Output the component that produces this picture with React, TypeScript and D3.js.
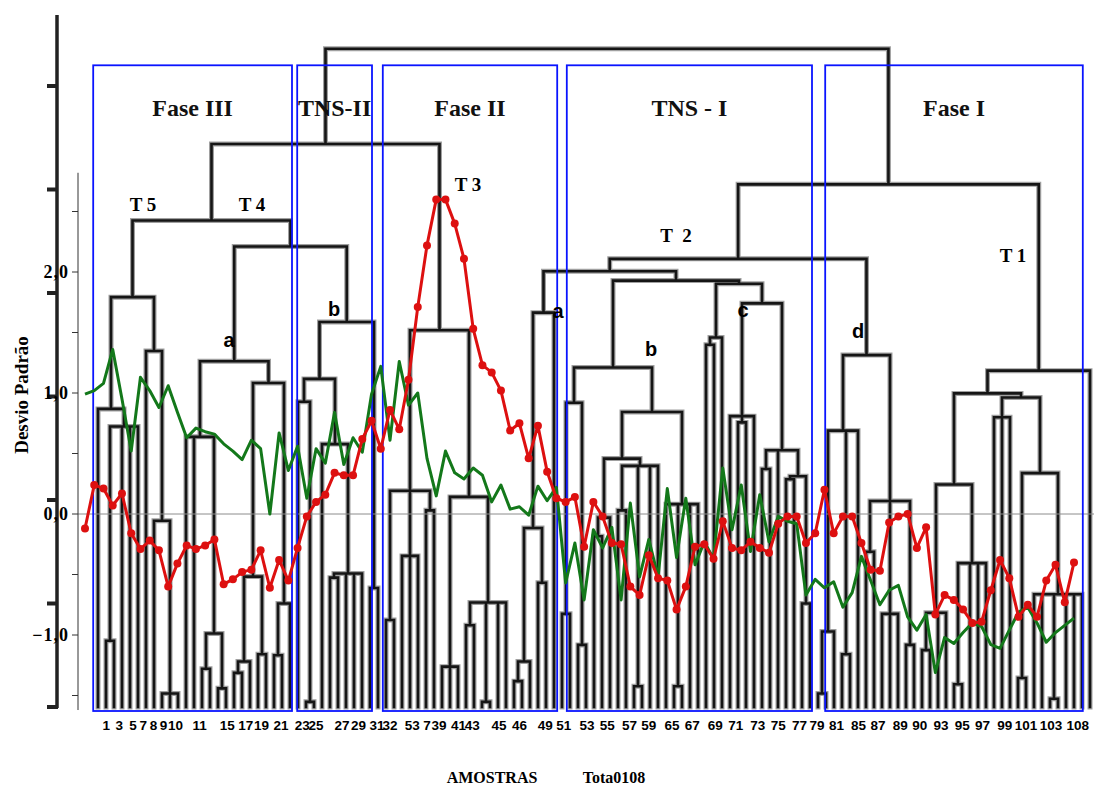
import React, { useRef, useEffect } from 'react';
import * as d3 from 'd3';

// dendrogram: [height, ...children], a leaf is `o`
type Node = number | Node[];
const o = 0;

const clusterT5: Node = [3.96,
  [2.88, o, [2.71, [0.64, o, o], o, o, o]],
  [3.44, o, [1.80, o, [0.13, o, o, o]]],
];
const clusterT4a: Node = [3.34,
  [2.61, o, o, [0.71, [0.37, o, o], [0.18, o, o]]],
  [3.13, [1.26, [0.44, [0.33, o, o], o], [0.51, o, o]], [1.0, [0.5, o, o], o]],
];
const clusterT4b: Node = [3.72,
  [3.17, [2.95, o, [0.05, o, o]], [2.54, o, [1.29, [1.25, o, o], o, o, o]]],
  [1.15, o, o],
];
const clusterT3: Node = [3.64,
  [2.09, [0.84, o, o], [1.46, o, o, o], [1.9, o, o]],
  [2.03, [0.39, o, o, o], [1.01, [0.79, o, o], [0.05, o, o], o, o]],
];
const clusterT2a: Node = [3.81, [1.73, [0.44, [0.25, o, o], o], [1.2, o, o]], o];
const clusterT2b: Node = [3.28,
  [2.94, [0.9, o, o], [0.6, o, o]],
  [2.85,
    [2.40, [1.83, [1.65, o, o], o], [2.33, [1.9, o, o], [0.2, o, o], o, o]],
    [1.96, o, [0.2, o, o], o, o]],
];
const clusterT2c: Node = [4.09,
  [3.57, [3.5, o, o], o],
  [3.90, [2.81, o, [2.75, o, o], o], [2.48, [2.3, o, o], o, [2.23, [2.2, o, o], [1.0, o, o]]]],
];
const clusterT2d: Node = [3.40,
  [2.67, [0.73, [0.13, o, o], o], [0.51, o, o], o],
  [1.99, [1.5, o, o], [0.9, o, o, o], [0.6, o, o]],
];
const clusterT1: Node = [3.25,
  [3.03,
    [2.15, [0.91, [0.55, o, o], o, o], [1.39, [0.22, o, o], o, o, o]],
    [2.99, [2.8, o, o, o], [2.26, [0.28, o, o], [1.09, o, o, [0.08, o, o], o, o, o]]]],
  o,
];
const dendrogram: Node = [6.36,
  [5.44, [4.70, clusterT5, [4.45, clusterT4a, clusterT4b]], clusterT3],
  [5.05, [4.33, [4.21, clusterT2a, [4.12, clusterT2b, clusterT2c]], clusterT2d], clusterT1],
];

// standardized series, samples 1..108 (dendrogram order)
const redSeries = [-0.12, 0.24, 0.21, 0.07, 0.17, -0.16, -0.29, -0.22, -0.30, -0.60,
  -0.41, -0.26, -0.29, -0.26, -0.21, -0.58, -0.54, -0.48, -0.46, -0.30,
  -0.61, -0.38, -0.55, -0.28, -0.02, 0.10, 0.16, 0.34, 0.32, 0.32,
  0.62, 0.77, 0.54, 0.86, 0.70, 1.11, 1.71, 2.22, 2.60, 2.60,
  2.40, 2.11, 1.53, 1.23, 1.17, 1.02, 0.69, 0.75, 0.46, 0.73,
  0.35, 0.13, 0.10, 0.14, -0.27, 0.10, -0.02, -0.24, -0.25, -0.60,
  -0.67, -0.34, -0.53, -0.55, -0.79, -0.60, -0.27, -0.25, -0.37, -0.06,
  -0.28, -0.30, -0.23, -0.28, -0.32, -0.08, -0.02, -0.02, -0.24, -0.16,
  0.20, -0.16, -0.02, -0.02, -0.24, -0.46, -0.47, -0.07, -0.02, 0.00,
  -0.28, -0.11, -0.83, -0.67, -0.71, -0.79, -0.90, -0.89, -0.63, -0.38,
  -0.53, -0.85, -0.75, -0.85, -0.55, -0.42, -0.73, -0.40];
const greenSeries = [0.99, 1.02, 1.08, 1.36, 0.95, 0.52, 1.13, 1.02, 0.88, 1.06,
  0.84, 0.63, 0.71, 0.68, 0.66, 0.58, 0.52, 0.45, 0.61, 0.54,
  0.00, 0.67, 0.36, 0.56, 0.13, 0.54, 0.42, 0.84, 0.41, 0.63,
  0.51, 0.99, 1.22, 0.61, 1.26, 0.90, 1.00, 0.46, 0.15, 0.52,
  0.34, 0.29, 0.38, 0.32, 0.10, 0.24, 0.04, 0.06, -0.01, 0.23,
  0.11, 0.22, -0.57, -0.24, -0.71, -0.13, -0.28, -0.11, -0.71, 0.09,
  -0.52, -0.21, -0.52, 0.21, -0.36, 0.13, -0.42, -0.23, -0.37, 0.38,
  -0.13, 0.24, -0.31, 0.16, -0.23, -0.02, -0.06, -0.08, -0.67, -0.54,
  -0.61, -0.56, -0.77, -0.65, -0.35, -0.55, -0.75, -0.63, -0.59, -0.85,
  -0.96, -0.83, -1.31, -1.02, -1.07, -0.98, -0.90, -0.93, -1.08, -1.11,
  -0.96, -0.81, -0.77, -0.90, -1.06, -0.98, -0.92, -0.86];

const sampleLabels = ['1', '3', '5', '7', '8', '9', '10', '11', '15', '17', '19', '21', '23', '25', '27', '29',
  '31', '32', '53', '7', '39', '41', '43', '45', '46', '49', '51', '53', '55', '57', '59', '65', '67', '69',
  '71', '73', '75', '77', '79', '81', '85', '87', '89', '90', '93', '95', '97', '99', '101', '103', '108'];
const sampleLabelAt = [3.3, 4.7, 6.2, 7.3, 8.4, 9.5, 10.8, 13.4, 16.4, 18.4, 20.1, 22.2, 24.5, 26, 28.8, 30.6,
  32.6, 34, 36.4, 38, 39.3, 41.4, 42.9, 45.8, 48, 50.8, 52.8, 55.3, 57.5, 59.9, 62, 64.5, 66.7, 69.2,
  71.4, 73.8, 76, 78.3, 80.2, 82.3, 84.7, 86.8, 89.2, 91.3, 93.6, 95.9, 98.1, 100.5, 102.8, 105.5, 108.4];

// phase boxes, in leaf positions
const phaseNames = ['Fase III', 'TNS-II', 'Fase II', 'TNS - I', 'Fase I'];
const phaseFrom = [-0.6, 24.9, 35.6, 58.6, 90.9];
const phaseTo = [24.25, 34.25, 57.4, 89.25, 123.1];

const valueTicks = [-1.5, -1, -0.5, 0, 0.5, 1, 1.5, 2, 2.5];
const valueLabels = [-1, 0, 1, 2];
const distTicks = [0, 1, 2, 3, 4, 5, 6];

const serif = '"Liberation Serif", "Times New Roman", serif';
const sans = '"Liberation Sans", Arial, sans-serif';

export default function App() {
  const svgRef = useRef<SVGSVGElement>(null);

  useEffect(() => {
    document.body.style.margin = '0';
    const svg = d3.select(svgRef.current);
    svg.selectAll('*').remove();

    const root: any = d3.hierarchy<Node>(dendrogram, d => (Array.isArray(d) ? d.slice(1) : null));
    const leafNodes = root.leaves();

    const xLeaf = d3.scaleLinear().domain([0, leafNodes.length - 1]).range([98, 1090]);
    const hDend = d3.scaleLinear().domain([0, 6]).range([707, 86]);
    const xs = d3.scaleLinear().domain([1, 108]).range([85, 1074]);
    const yv = d3.scaleLinear().domain([0, 1]).range([514, 393]);

    leafNodes.forEach((n: any, i: number) => { n.x = xLeaf(i); n.y = hDend(0); });
    root.eachAfter((n: any) => {
      if (n.children) {
        n.x = (n.children[0].x + n.children[n.children.length - 1].x) / 2;
        n.y = hDend(n.data[0]);
      }
    });

    let d = '';
    root.each((n: any) => {
      if (!n.children) return;
      const c = n.children;
      d += `M${c[0].x},${n.y}H${c[c.length - 1].x}`;
      c.forEach((ch: any) => { d += `M${ch.x},${n.y}V${ch.y}`; });
    });

    // outer (distance) axis
    svg.append('line')
      .attr('x1', 57).attr('x2', 57).attr('y1', 15).attr('y2', hDend(0) + 1)
      .attr('stroke', '#222').attr('stroke-width', 3.5);
    svg.append('g').selectAll('line').data(distTicks).join('line')
      .attr('x1', 47).attr('x2', 58)
      .attr('y1', t => hDend(t)).attr('y2', t => hDend(t))
      .attr('stroke', '#222').attr('stroke-width', 4);

    // dendrogram
    svg.append('path').attr('d', d).attr('fill', 'none')
      .attr('stroke', '#a0a0a0').attr('stroke-width', 5).attr('stroke-linecap', 'square');
    svg.append('path').attr('d', d).attr('fill', 'none')
      .attr('stroke', '#151515').attr('stroke-width', 2.6).attr('stroke-linecap', 'square');

    // zero gridline
    svg.append('line')
      .attr('x1', 78).attr('x2', 1094).attr('y1', yv(0)).attr('y2', yv(0))
      .attr('stroke', '#8c8c8c').attr('stroke-width', 1);

    // inner (value) axis
    svg.append('line')
      .attr('x1', 78).attr('x2', 78).attr('y1', yv(2.82)).attr('y2', yv(-1.62))
      .attr('stroke', '#333').attr('stroke-width', 1);
    svg.append('g').selectAll('line').data(valueTicks).join('line')
      .attr('x1', 72).attr('x2', 78)
      .attr('y1', t => yv(t)).attr('y2', t => yv(t))
      .attr('stroke', '#333').attr('stroke-width', 1);
    svg.append('g').selectAll('text').data(valueLabels).join('text')
      .attr('x', 69).attr('y', t => yv(t)).attr('dy', '0.35em')
      .attr('text-anchor', 'end')
      .attr('font-family', serif).attr('font-weight', 'bold').attr('font-size', 18)
      .attr('letter-spacing', 1)
      .text(t => d3.format('.1f')(t).replace('.', ','));

    // phase boxes
    const boxes = svg.append('g');
    phaseNames.forEach((name, i) => {
      const x0 = xLeaf(phaseFrom[i]);
      const x1 = xLeaf(phaseTo[i]);
      boxes.append('rect')
        .attr('x', x0).attr('y', hDend(6.2))
        .attr('width', x1 - x0).attr('height', hDend(0) + 4 - hDend(6.2))
        .attr('fill', 'none').attr('stroke', '#0a14ff').attr('stroke-width', 1.8);
      boxes.append('text')
        .attr('x', (x0 + x1) / 2).attr('y', 116)
        .attr('text-anchor', 'middle')
        .attr('font-family', serif).attr('font-weight', 'bold').attr('font-size', 24)
        .attr('fill', '#111')
        .text(name);
    });

    // group labels
    const groupLabels = [
      { t: 'T 5', x: 143, y: 211 }, { t: 'T 4', x: 252, y: 211 }, { t: 'T 3', x: 468, y: 191 },
      { t: 'T  2', x: 676, y: 242 }, { t: 'T 1', x: 1013, y: 262 },
    ];
    svg.append('g').selectAll('text').data(groupLabels).join('text')
      .attr('x', g => g.x).attr('y', g => g.y).attr('text-anchor', 'middle')
      .attr('font-family', serif).attr('font-weight', 'bold').attr('font-size', 19)
      .attr('xml:space', 'preserve')
      .text(g => g.t);
    const subLabels = [
      { t: 'a', x: 229, y: 347 }, { t: 'b', x: 334, y: 316 }, { t: 'a', x: 558, y: 318 },
      { t: 'b', x: 651, y: 356 }, { t: 'c', x: 743, y: 317 }, { t: 'd', x: 858, y: 338 },
    ];
    svg.append('g').selectAll('text').data(subLabels).join('text')
      .attr('x', g => g.x).attr('y', g => g.y).attr('text-anchor', 'middle')
      .attr('font-family', sans).attr('font-weight', 'bold').attr('font-size', 20)
      .text(g => g.t);

    // series
    const idx = d3.range(1, 109);
    svg.append('path')
      .datum(idx)
      .attr('fill', 'none').attr('stroke', '#13781a').attr('stroke-width', 3)
      .attr('stroke-linejoin', 'round')
      .attr('d', d3.line<number>().x(i => xs(i)).y(i => yv(greenSeries[i - 1])));
    svg.append('path')
      .datum(idx)
      .attr('fill', 'none').attr('stroke', '#dd1010').attr('stroke-width', 3)
      .attr('stroke-linejoin', 'round')
      .attr('d', d3.line<number>().x(i => xs(i)).y(i => yv(redSeries[i - 1])));
    svg.append('g').selectAll('circle').data(idx).join('circle')
      .attr('cx', i => xs(i)).attr('cy', i => yv(redSeries[i - 1]))
      .attr('r', 4).attr('fill', '#dd1010');

    // sample labels
    svg.append('g').selectAll('text').data(sampleLabels).join('text')
      .attr('x', (_, i) => xs(sampleLabelAt[i])).attr('y', 730)
      .attr('text-anchor', 'middle')
      .attr('font-family', sans).attr('font-weight', 'bold').attr('font-size', 13.5)
      .text(t => t);

    // axis titles
    svg.append('text')
      .attr('transform', 'translate(28,395) rotate(-90)')
      .attr('text-anchor', 'middle')
      .attr('font-family', serif).attr('font-weight', 'bold').attr('font-size', 19)
      .text('Desvio Padrão');
    svg.append('text')
      .attr('x', 492).attr('y', 783).attr('text-anchor', 'middle')
      .attr('font-family', serif).attr('font-weight', 'bold').attr('font-size', 16)
      .text('AMOSTRAS');
    svg.append('text')
      .attr('x', 614).attr('y', 783).attr('text-anchor', 'middle')
      .attr('font-family', serif).attr('font-weight', 'bold').attr('font-size', 16)
      .text('Tota0108');
  }, []);

  return <svg ref={svgRef} width={1094} height={788} style={{ display: 'block', background: '#fff' }} />;
}
